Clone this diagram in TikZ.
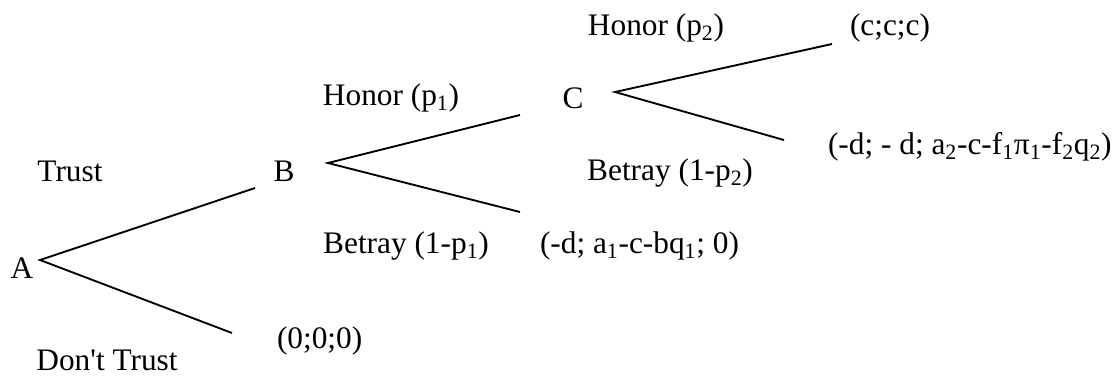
\documentclass[tikz,border=0pt]{standalone}
\usepackage{fontspec}
\setmainfont{Liberation Serif}[Ligatures=TeXOff]
\begin{document}
\begin{tikzpicture}[x=0.75pt,y=-0.75pt,
  lbl/.style={inner sep=0pt,outer sep=0pt,anchor=center,font=\fontsize{23.5}{28}\selectfont},
  edge/.style={line width=1.4pt}]
\useasboundingbox (0,0) rectangle (1119,376);
% decision nodes
\node[lbl] (A) at (22,268) {A};
\node[lbl] (B) at (284,171) {B};
\node[lbl] (C) at (573,98) {C};
% branch labels
\node[lbl] (trust) at (70,171) {Trust};
\node[lbl] (dtrust) at (107,360) {Don't Trust};
\node[lbl] (hon1) at (391,98) {Honor (p\textsubscript{1})};
\node[lbl] (bet1) at (406,246) {Betray (1-p\textsubscript{1})};
\node[lbl] (hon2) at (656,28) {Honor (p\textsubscript{2})};
\node[lbl] (bet2) at (670,173) {Betray (1-p\textsubscript{2})};
% payoffs
\node[lbl,anchor=west] (pay0) at (277,341) {(0;0;0)};
\node[lbl,anchor=west] (pay1) at (540,246) {(-d; a\textsubscript{1}-c-bq\textsubscript{1}; 0)};
\node[lbl,anchor=west] (pay2) at (850,28) {(c;c;c)};
\node[lbl,anchor=west] (pay3) at (828,147) {(-d; - d; a\textsubscript{2}-c-f\textsubscript{1}π\textsubscript{1}-f\textsubscript{2}q\textsubscript{2})};
% branch coordinates
\coordinate (a0) at (40,260);
\coordinate (aT) at (255,188);
\coordinate (aD) at (232,333);
\coordinate (b0) at (328,163);
\coordinate (bH) at (520,115);
\coordinate (bB) at (520,212);
\coordinate (c0) at (615,92);
\coordinate (cH) at (832,44);
\coordinate (cB) at (784,140);
\draw[edge] (aT) -- (a0) -- (aD);
\draw[edge] (bH) -- (b0) -- (bB);
\draw[edge] (cH) -- (c0) -- (cB);
\end{tikzpicture}
\end{document}
